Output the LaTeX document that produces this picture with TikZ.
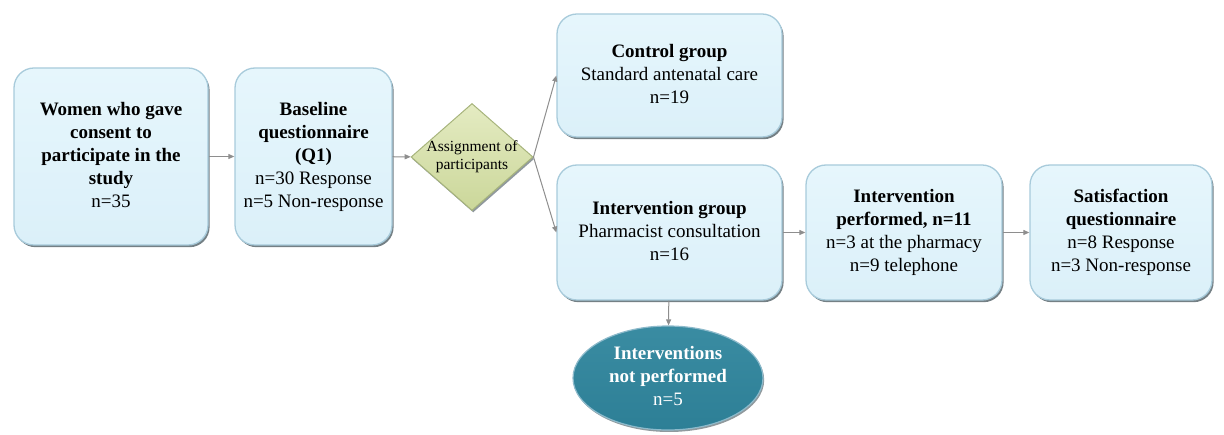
\documentclass[tikz,border=0pt]{standalone}
\usepackage{fontspec}
\setmainfont{Liberation Serif}
\usetikzlibrary{arrows.meta,shapes.geometric,shadows}
\definecolor{boxfill}{HTML}{DBF0F9}
\definecolor{boxtop}{HTML}{E6F6FC}
\definecolor{boxedge}{HTML}{A8CBDB}
\definecolor{bevel}{HTML}{46555C}
\definecolor{dmdfill}{HTML}{CBD79A}
\definecolor{dmdtop}{HTML}{E4EBC2}
\definecolor{dmdedge}{HTML}{A7B47C}
\definecolor{ovfill}{HTML}{2D7F96}
\definecolor{ovtop}{HTML}{3A8CA2}
\definecolor{ovedge}{HTML}{8DBACB}
\definecolor{linkgray}{HTML}{8E8E8E}
% centred stack of lines set in the current font
\newcommand{\lines}[1]{\begin{tabular}{@{}c@{}}#1\end{tabular}}
\tikzset{
  flowbox/.style={rectangle, rounded corners=20pt, draw=boxedge, line width=1.3pt,
    top color=boxtop, bottom color=boxfill, inner sep=4pt,
    font=\rmfamily\fontsize{19}{23}\selectfont,
    drop shadow={shadow xshift=1.6pt, shadow yshift=-2.2pt, opacity=0.75, fill=bevel}},
  choice/.style={diamond, draw=dmdedge, line width=1pt, top color=dmdtop, bottom color=dmdfill,
    inner sep=0pt, minimum width=122pt, minimum height=107pt,
    font=\rmfamily\fontsize{15.5}{18}\selectfont,
    drop shadow={shadow xshift=1.2pt, shadow yshift=-2pt, opacity=0.6, fill=bevel}},
  outcome/.style={ellipse, draw=ovedge, line width=1.2pt, top color=ovtop, bottom color=ovfill,
    text=white, inner sep=0pt, minimum width=190pt, minimum height=104pt,
    font=\rmfamily\fontsize{19}{23}\selectfont,
    drop shadow={shadow xshift=1.2pt, shadow yshift=-2pt, opacity=0.6, fill=bevel}},
  link/.style={draw=linkgray, line width=1pt, -{Triangle[length=6pt,width=5pt]}}
}
\begin{document}
\begin{tikzpicture}[x=1pt,y=-1pt]
\useasboundingbox (0,0) rectangle (1224,435);

\node[flowbox, minimum width=194pt, minimum height=177pt] (women) at (111,156.5)
  {\lines{\textbf{Women who gave}\\ \textbf{consent to}\\ \textbf{participate in the}\\ \textbf{study}\\ n=35}};
\node[flowbox, minimum width=157pt, minimum height=177pt] (base) at (313.5,156.5)
  {\lines{\textbf{Baseline}\\ \textbf{questionnaire}\\ \textbf{(Q1)}\\ n=30 Response\\ n=5 Non-response}};
\node[choice] (assign) at (472,157)
  {\makebox[0pt][c]{\lines{Assignment of\\ participants}}};
\node[flowbox, minimum width=225pt, minimum height=123pt] (control) at (669.5,75.5)
  {\lines{\textbf{Control group}\\ Standard antenatal care\\ n=19}};
\node[flowbox, minimum width=225pt, minimum height=135pt] (intgrp) at (669.5,232.5)
  {\lines{\textbf{Intervention group}\\ Pharmacist consultation\\ n=16}};
\node[flowbox, minimum width=196pt, minimum height=135pt] (intperf) at (904,232.5)
  {\lines{\textbf{Intervention}\\ \textbf{performed, n=11}\\ n=3 at the pharmacy\\ n=9 telephone}};
\node[flowbox, minimum width=182pt, minimum height=135pt] (satis) at (1121,232.5)
  {\lines{\textbf{Satisfaction}\\ \textbf{questionnaire}\\ n=8 Response\\ n=3 Non-response}};
\node[outcome] (notperf) at (668,378)
  {\lines{\textbf{Interventions}\\ \textbf{not performed}\\ n=5}};

\draw[link] (women) -- (base);
\draw[link] (base) -- (assign);
\draw[link] (assign.east) -- (control.west);
\draw[link] (assign.east) -- (intgrp.west);
\draw[link] (intgrp) -- (intperf);
\draw[link] (intperf) -- (satis);
\draw[link] (intgrp) -- (notperf);
\end{tikzpicture}
\end{document}
